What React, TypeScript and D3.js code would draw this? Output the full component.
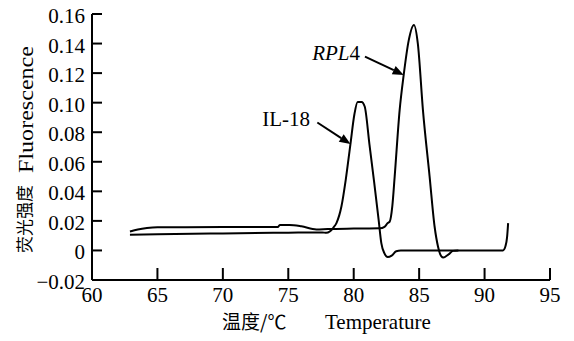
import React from "react";
import * as d3 from "d3";

// melt curve IL-18
const il18Temp = [
  62.9, 65, 70, 75, 77.6, 77.9, 78.17, 78.45, 78.68, 79.06, 79.39, 79.75, 80.05,
  80.3, 80.6, 80.84, 81.2, 81.55, 81.9, 82.11, 82.35, 82.6, 82.9, 83.25, 83.6,
  91.4, 91.6, 91.72, 91.8,
];
const il18Val = [
  0.0106, 0.011, 0.0115, 0.012, 0.0122, 0.0119, 0.0128, 0.0155, 0.0185, 0.0297,
  0.0478, 0.072, 0.092, 0.1005, 0.1005, 0.0974, 0.072, 0.047, 0.021, 0.005,
  -0.002, -0.0045, -0.0035, -0.0005, 0, 0, 0.003, 0.009, 0.0185,
];

// melt curve RPL4
const rplTemp = [
  62.9, 63.5, 64.2, 65, 70, 74.2, 74.35, 75.1, 76, 77.15, 78, 80, 82, 82.35,
  82.6, 82.75, 82.95, 83.13, 83.51, 83.82, 84.2, 84.6, 84.9, 85.29, 85.8, 86.18,
  86.44, 86.7, 86.85, 87.2, 87.6, 88,
];
const rplVal = [
  0.0128, 0.0142, 0.0152, 0.0157, 0.0158, 0.0158, 0.0172, 0.0172, 0.0163,
  0.0142, 0.0145, 0.0148, 0.015, 0.016, 0.0185, 0.0195, 0.03, 0.05, 0.095,
  0.1188, 0.142, 0.1526, 0.14, 0.095, 0.05, 0.0162, 0.0027, -0.004, -0.0048,
  -0.003, -0.0003, 0,
];

const xTicks = [60, 65, 70, 75, 80, 85, 90, 95];
const yTicks = [-0.02, 0, 0.02, 0.04, 0.06, 0.08, 0.1, 0.12, 0.14, 0.16];
const yTickLabels = ["−0.02", "0", "0.02", "0.04", "0.06", "0.08", "0.10", "0.12", "0.14", "0.16"];

// annotations: label, text end [T, F], arrow tail [T, F], arrow tip [T, F]
const labels = [
  { name: "IL-18", text: [76.66, 0.0843], tail: [77.22, 0.0866], tip: [79.75, 0.072] },
  { name: "RPL4", text: [80.48, 0.129], tail: [80.86, 0.1312], tip: [83.82, 0.1188] },
];

const serif = "'Liberation Serif', 'Times New Roman', serif";
const cjk = "'Noto Sans CJK SC', sans-serif";

export default function App() {
  const width = 574;
  const height = 341;
  const x = d3.scaleLinear().domain([60, 95]).range([92, 550]);
  const y = d3.scaleLinear().domain([-0.02, 0.16]).range([280, 14]);

  const il18Path = d3
    .line<number>()
    .x((d) => x(d))
    .y((_, i) => y(il18Val[i]))
    .curve(d3.curveMonotoneX)(il18Temp);
  const rplPath = d3
    .line<number>()
    .x((d) => x(d))
    .y((_, i) => y(rplVal[i]))
    .curve(d3.curveMonotoneX)(rplTemp);

  const arrow = (tail: number[], tip: number[]) => {
    const x0 = x(tail[0]);
    const y0 = y(tail[1]);
    const x1 = x(tip[0]);
    const y1 = y(tip[1]);
    const dx = x1 - x0;
    const dy = y1 - y0;
    const len = Math.sqrt(dx * dx + dy * dy);
    const ux = dx / len;
    const uy = dy / len;
    const hl = 11;
    const hw = 4.5;
    const bx = x1 - ux * hl;
    const by = y1 - uy * hl;
    const pts = [
      [x1, y1],
      [bx - uy * hw, by + ux * hw],
      [bx + uy * hw, by - ux * hw],
    ];
    return { x0, y0, bx, by, pts: pts.map((p) => p.join(",")).join(" ") };
  };

  return (
    <svg
      width={width}
      height={height}
      style={{ position: "absolute", left: 0, top: 0, background: "#fff" }}
    >
      <rect width={width} height={height} fill="#fff" />
      {/* axes */}
      <line x1={x(60)} x2={x(95)} y1={y(-0.02)} y2={y(-0.02)} stroke="#000" strokeWidth={2} />
      <line x1={x(60)} x2={x(60)} y1={y(-0.02)} y2={y(0.16)} stroke="#000" strokeWidth={2} />
      {xTicks.map((t) => (
        <g key={t}>
          {t !== 60 && (
            <line x1={x(t)} x2={x(t)} y1={y(-0.02)} y2={y(-0.02) - 12} stroke="#000" strokeWidth={2} />
          )}
          <text x={x(t)} y={302} textAnchor="middle" fontFamily={serif} fontSize={21}>
            {t}
          </text>
        </g>
      ))}
      {yTicks.map((t, i) => (
        <g key={t}>
          {t !== -0.02 && (
            <line x1={x(60)} x2={x(60) + 10} y1={y(t)} y2={y(t)} stroke="#000" strokeWidth={2} />
          )}
          <text x={85} y={y(t) + 9} textAnchor="end" fontFamily={serif} fontSize={21}>
            {yTickLabels[i]}
          </text>
        </g>
      ))}
      {/* curves */}
      <path d={il18Path || ""} fill="none" stroke="#000" strokeWidth={2} />
      <path d={rplPath || ""} fill="none" stroke="#000" strokeWidth={2} />
      {/* annotations */}
      {labels.map((l) => {
        const a = arrow(l.tail, l.tip);
        return (
          <g key={l.name}>
            <line x1={a.x0} y1={a.y0} x2={a.bx} y2={a.by} stroke="#000" strokeWidth={2} />
            <polygon points={a.pts} fill="#000" />
            <text x={x(l.text[0])} y={y(l.text[1])} textAnchor="end" fontFamily={serif} fontSize={21}>
              {l.name === "RPL4" ? (
                <>
                  <tspan fontStyle="italic">RPL</tspan>4
                </>
              ) : (
                l.name
              )}
            </text>
          </g>
        );
      })}
      {/* axis titles */}
      <text x={222} y={329} fontFamily={cjk} fontSize={19}>
        温度/℃
      </text>
      <text x={325} y={329} fontFamily={serif} fontSize={21}>
        Temperature
      </text>
      <text transform="translate(31,253) rotate(-90)" fontFamily={cjk} fontSize={17}>
        荧光强度
      </text>
      <text
        transform="translate(33,173) rotate(-90)"
        fontFamily={serif}
        fontSize={21}
        textLength={127}
        lengthAdjust="spacingAndGlyphs"
      >
        Fluorescence
      </text>
    </svg>
  );
}
